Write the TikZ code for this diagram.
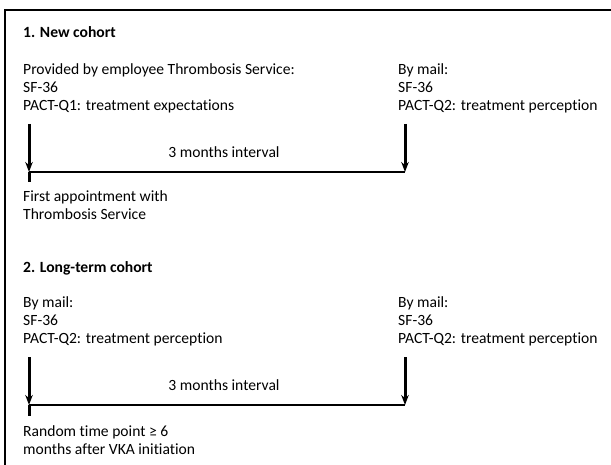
\documentclass[tikz,border=0pt]{standalone}
\usepackage{fontspec}
\setmainfont{Carlito}[Ligatures=NoCommon]
\usetikzlibrary{arrows.meta}
\begin{document}
\begin{tikzpicture}[
      x=1pt, y=-1pt,
      every node/.style={font=\fontsize{15.6}{18}\selectfont, inner sep=0pt},
      block/.style={anchor=base west, align=left},
      title/.style={block, font=\fontsize{15.6}{18}\selectfont\bfseries},
      arrow/.style={-{Stealth[length=10pt, width=7.5pt]}, line width=3pt},
      timeline/.style={line width=1.9pt},
      frame/.style={line width=2.4pt},
    ]
    \useasboundingbox (0,0) rectangle (611,465);
    % Frame (top and left only)
    \draw[frame] (611,10) -- (5,10) -- (5,465);
    % 1. New cohort (blocks placed by the baseline of their last line)
    \node[title] (T1) at (23,38) {1. New cohort};
    \node[block] (A1) at (23,111) {Provided by employee Thrombosis Service:\\SF-36\\PACT-Q1: treatment expectations};
    \node[block] (B1) at (398,111) {By mail:\\SF-36\\PACT-Q2: treatment perception};
    \coordinate (A1s) at (29,124);  \coordinate (A1e) at (29,172);
    \coordinate (B1s) at (405,124); \coordinate (B1e) at (405,172);
    \coordinate (A1t) at (29,182);
    \draw[arrow] (A1s) -- (A1e);
    \draw[arrow] (B1s) -- (B1e);
    \draw[timeline] (A1e) -- node[above=13pt, xshift=7pt] (I1) {3 months interval} (B1e);
    \draw[line width=3pt] (A1e) -- (A1t);
    \node[block] (F1) at (23,219.5) {First appointment with\\Thrombosis Service};
    % 2. Long-term cohort
    \node[title] (T2) at (23,272.5) {2. Long-term cohort};
    \node[block] (A2) at (23,343.5) {By mail:\\SF-36\\PACT-Q2: treatment perception};
    \node[block] (B2) at (398,343.5) {By mail:\\SF-36\\PACT-Q2: treatment perception};
    \coordinate (A2s) at (29,357);  \coordinate (A2e) at (29,405);
    \coordinate (B2s) at (405,357); \coordinate (B2e) at (405,405);
    \coordinate (A2t) at (29,416);
    \draw[arrow] (A2s) -- (A2e);
    \draw[arrow] (B2s) -- (B2e);
    \draw[timeline] (A2e) -- node[above=13pt, xshift=7pt] (I2) {3 months interval} (B2e);
    \draw[line width=3pt] (A2e) -- (A2t);
    \node[block] (F2) at (23,454) {Random time point ≥ 6\\months after VKA initiation};
  \end{tikzpicture}
\end{document}
